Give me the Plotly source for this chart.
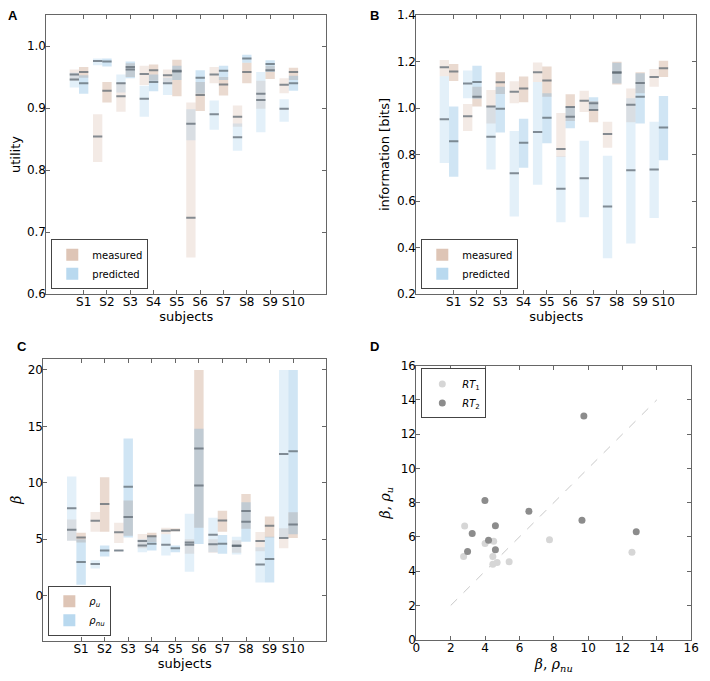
import plotly.graph_objects as go

subjects = ["S1", "S2", "S3", "S4", "S5", "S6", "S7", "S8", "S9", "S10"]
subject_pos = [1, 2, 3, 4, 5, 6, 7, 8, 9, 10]

# ---- Panel A: utility (low, median, high) ----
util_meas_rt1 = [(0.944, 0.954, 0.962), (0.813, 0.854, 0.890), (0.894, 0.919, 0.941), (0.937, 0.955, 0.968),
                 (0.941, 0.953, 0.962), (0.659, 0.723, 0.909), (0.940, 0.954, 0.966), (0.870, 0.886, 0.904),
                 (0.899, 0.923, 0.944), (0.924, 0.9375, 0.948)]
util_pred_rt1 = [(0.933, 0.946, 0.957), (0.969, 0.976, 0.980), (0.925, 0.940, 0.954), (0.886, 0.915, 0.936),
                 (0.921, 0.940, 0.949), (0.848, 0.8745, 0.898), (0.865, 0.890, 0.912), (0.831, 0.853, 0.875),
                 (0.861, 0.913, 0.958), (0.878, 0.899, 0.914)]
util_meas_rt2 = [(0.949, 0.958, 0.966), (0.909, 0.928, 0.942), (0.950, 0.962, 0.972), (0.944, 0.961, 0.970),
                 (0.919, 0.959, 0.978), (0.895, 0.921, 0.942), (0.920, 0.938, 0.950), (0.940, 0.958, 0.973),
                 (0.947, 0.961, 0.968), (0.945, 0.958, 0.965)]
util_pred_rt2 = [(0.923, 0.940, 0.953), (0.967, 0.975, 0.980), (0.948, 0.966, 0.975), (0.927, 0.942, 0.954),
                 (0.945, 0.960, 0.968), (0.923, 0.949, 0.961), (0.945, 0.960, 0.968), (0.973, 0.980, 0.986),
                 (0.958, 0.971, 0.977), (0.928, 0.940, 0.952)]

# ---- Panel B: information [bits] ----
info_meas_rt1 = [(1.137, 1.175, 1.207), (0.901, 0.965, 1.017), (0.933, 1.007, 1.077), (1.021, 1.070, 1.115),
                 (1.112, 1.154, 1.196), (0.789, 0.824, 0.979), (0.983, 1.031, 1.074), (0.829, 0.888, 0.941),
                 (0.939, 1.014, 1.084), (1.091, 1.133, 1.168)]
info_pred_rt1 = [(0.764, 0.952, 1.137), (1.042, 1.105, 1.161), (0.736, 0.876, 1.007), (0.534, 0.719, 0.901),
                 (0.670, 0.897, 1.112), (0.509, 0.653, 0.792), (0.530, 0.698, 0.859), (0.354, 0.577, 0.795),
                 (0.417, 0.732, 1.042), (0.527, 0.736, 0.941)]
info_meas_rt2 = [(1.116, 1.157, 1.189), (1.007, 1.049, 1.091), (1.060, 1.111, 1.154), (1.025, 1.084, 1.136),
                 (1.049, 1.118, 1.179), (0.944, 1.004, 1.059), (0.939, 0.992, 1.030), (1.101, 1.154, 1.199),
                 (1.063, 1.108, 1.154), (1.133, 1.171, 1.203)]
info_pred_rt2 = [(0.705, 0.857, 1.007), (1.040, 1.112, 1.182), (0.895, 0.997, 1.091), (0.743, 0.851, 0.954),
                 (0.848, 0.958, 1.063), (0.913, 0.962, 1.007), (0.990, 1.021, 1.046), (1.105, 1.152, 1.195),
                 (0.933, 1.049, 1.150), (0.775, 0.916, 1.052)]

# ---- Panel C: beta (rho_u measured, rho_nu predicted) ----
rho_u_rt1 = [(4.86, 5.84, 6.74), (5.67, 6.63, 7.41), (4.66, 5.61, 6.45), (4.20, 4.85, 5.47), (5.44, 5.75, 6.02),
             (3.70, 4.50, 5.00), (3.80, 4.55, 5.00), (3.80, 4.40, 4.90), (3.93, 4.85, 5.64), (4.20, 5.10, 5.96)]
rho_nu_rt1 = [(4.86, 7.75, 10.56), (2.40, 2.81, 3.125), (3.95, 4.00, 4.05), (3.85, 4.45, 5.00), (3.56, 4.50, 5.44),
              (2.11, 4.70, 7.26), (3.85, 5.40, 6.89), (3.65, 4.45, 5.21), (1.16, 2.75, 4.28), (5.15, 12.55, 20.0)]
rho_u_rt2 = [(4.70, 5.15, 5.58), (5.67, 8.13, 10.5), (5.30, 6.97, 8.42), (4.75, 5.25, 5.58), (5.70, 5.80, 5.95),
             (6.02, 13.05, 20.0), (5.67, 6.65, 7.52), (5.93, 7.50, 9.00), (5.15, 6.20, 7.00), (5.10, 6.30, 7.38)]
rho_nu_rt2 = [(0.95, 2.98, 5.00), (3.47, 3.99, 4.43), (5.15, 9.64, 13.92), (4.00, 4.60, 5.20), (3.85, 4.20, 4.43),
              (4.57, 9.75, 14.78), (3.70, 4.60, 5.38), (4.77, 6.55, 8.28), (1.16, 3.25, 5.21), (5.44, 12.80, 20.0)]

diag_line = [2, 14]

BROWN1 = "rgba(190,140,110,0.18)"
BROWN2 = "rgba(190,140,110,0.32)"
BLUE1 = "rgba(100,170,220,0.18)"
BLUE2 = "rgba(100,170,220,0.30)"
BROWN_LEG = "rgba(190,140,110,0.5)"
BLUE_LEG = "rgba(100,170,220,0.45)"
MED = "rgba(95,105,115,0.75)"
BW = 0.4
FONT = "DejaVu Sans"

# the page body adds an 8px offset; lay out in window pixels and compensate
OFF = 8
W, H = 710 - OFF, 681 - OFF
def dom_x(a, b):
    return [(a - OFF) / W, (b - OFF) / W]
def dom_y(top, bot):
    return [1 - (bot - OFF) / H, 1 - (top - OFF) / H]
def px(x):
    return (x - OFF) / W
def py(y):
    return 1 - (y - OFF) / H

fig = go.Figure()

def add_box_panel(xa, ya, legend, m1, p1, m2, p2, names):
    pos1 = [p - BW for p in subject_pos]
    pos2 = list(subject_pos)
    for pos, data, col in [(pos1, m1, BROWN1), (pos1, p1, BLUE1), (pos2, m2, BROWN2), (pos2, p2, BLUE2)]:
        fig.add_trace(go.Bar(x=pos, base=[d[0] for d in data], y=[d[2] - d[0] for d in data],
                             width=BW, marker=dict(color=col, line=dict(width=0)),
                             xaxis=xa, yaxis=ya, showlegend=False, hoverinfo="skip"))
    for pos, data in [(pos1, m1), (pos1, p1), (pos2, m2), (pos2, p2)]:
        xs, ys = [], []
        for p, d in zip(pos, data):
            xs += [p - BW / 2, p + BW / 2, None]
            ys += [d[1], d[1], None]
        fig.add_trace(go.Scatter(x=xs, y=ys, mode="lines", line=dict(color=MED, width=2),
                                 xaxis=xa, yaxis=ya, showlegend=False, hoverinfo="skip"))
    for nm, col in zip(names, [BROWN_LEG, BLUE_LEG]):
        fig.add_trace(go.Bar(x=[None], y=[None], name=nm, marker=dict(color=col, line=dict(width=0)),
                             xaxis=xa, yaxis=ya, legend=legend, showlegend=True))

add_box_panel("x", "y", "legend", util_meas_rt1, util_pred_rt1, util_meas_rt2, util_pred_rt2,
              ["measured", "predicted"])
add_box_panel("x2", "y2", "legend2", info_meas_rt1, info_pred_rt1, info_meas_rt2, info_pred_rt2,
              ["measured", "predicted"])
add_box_panel("x3", "y3", "legend3", rho_u_rt1, rho_nu_rt1, rho_u_rt2, rho_nu_rt2,
              ["<i>ρ<sub>u</sub></i>", "<i>ρ<sub>nu</sub></i>"])

# Panel D
fig.add_trace(go.Scatter(x=diag_line, y=diag_line, mode="lines", line=dict(color="#c8c8c8", width=1, dash="dash"),
                         xaxis="x4", yaxis="y4", showlegend=False, hoverinfo="skip"))
fig.add_trace(go.Scatter(x=[d[1] for d in rho_nu_rt1], y=[d[1] for d in rho_u_rt1], mode="markers",
                         marker=dict(color="#d6d6d6", size=7), name="<i>RT</i><sub>1</sub>",
                         xaxis="x4", yaxis="y4", legend="legend4"))
fig.add_trace(go.Scatter(x=[d[1] for d in rho_nu_rt2], y=[d[1] for d in rho_u_rt2], mode="markers",
                         marker=dict(color="#8c8c8c", size=7), name="<i>RT</i><sub>2</sub>",
                         xaxis="x4", yaxis="y4", legend="legend4"))

axis_common = dict(showline=True, linecolor="#666", linewidth=1, mirror="ticks", ticks="inside",
                   ticklen=4, tickcolor="#666", showgrid=False, zeroline=False,
                   tickfont=dict(size=12, color="black", family=FONT))
xtick_adj = dict(ticklabelstandoff=-3)
ytick_adj = dict(ticklabelstandoff=-3)
title_font = dict(size=13, color="black", family=FONT)
math_font = dict(size=14, color="black", family="DejaVu Serif")

subj_x = dict(axis_common, **xtick_adj, range=[-0.6, 11.4], tickvals=subject_pos, ticktext=subjects,
              title=dict(text="subjects", font=title_font, standoff=0))

fig.update_layout(
    width=W, height=H, margin=dict(l=0, r=0, t=0, b=0),
    paper_bgcolor="white", plot_bgcolor="white", barmode="overlay",
    font=dict(family=FONT, color="black"),
    xaxis=dict(subj_x, domain=dom_x(42, 327), anchor="y"),
    yaxis=dict(axis_common, **ytick_adj, domain=dom_y(8, 293), anchor="x", range=[0.6, 1.05],
               tickvals=[0.6, 0.7, 0.8, 0.9, 1.0],
               tickformat=".1f", title=dict(text="utility", font=title_font, standoff=6)),
    xaxis2=dict(subj_x, domain=dom_x(419, 704), anchor="y2"),
    yaxis2=dict(axis_common, **ytick_adj, domain=dom_y(8, 293), anchor="x2", range=[0.2, 1.4], dtick=0.2, tick0=0.2,
                tickformat=".1f", title=dict(text="information [bits]", font=title_font, standoff=4)),
    xaxis3=dict(subj_x, domain=dom_x(39, 327), anchor="y3"),
    yaxis3=dict(axis_common, **ytick_adj, domain=dom_y(359, 647), anchor="x3", range=[-4, 21],
                tickvals=[0, 5, 10, 15, 20],
                title=dict(text="<i>β</i>", font=math_font, standoff=10)),
    xaxis4=dict(axis_common, **xtick_adj, domain=dom_x(419, 699), anchor="y4", range=[0, 16], dtick=2,
                title=dict(text="<i>β</i>, <i>ρ<sub>nu</sub></i>", font=math_font, standoff=5)),
    yaxis4=dict(axis_common, **ytick_adj, domain=dom_y(366, 646), anchor="x4", range=[0, 16], dtick=2,
                title=dict(text="<i>β</i>, <i>ρ<sub>u</sub></i>", font=math_font, standoff=6)),
)

leg_common = dict(bgcolor="white", bordercolor="#444", borderwidth=1, font=dict(size=10, family=FONT),
                  xanchor="left", tracegroupgap=0)
fig.update_layout(
    legend=dict(leg_common, x=px(47), y=py(288), yanchor="bottom"),
    legend2=dict(leg_common, x=px(424), y=py(288), yanchor="bottom"),
    legend3=dict(leg_common, x=px(44), y=py(642), yanchor="bottom"),
    legend4=dict(leg_common, x=px(424), y=py(369), yanchor="top", itemsizing="trace"),
)

for txt, ax_, ay_ in [("A", 8.5, 8.5), ("B", 376, 8.5), ("C", 17, 347), ("D", 376, 347)]:
    fig.add_annotation(text="<b>%s</b>" % txt, x=px(ax_), y=py(ay_), xref="paper", yref="paper",
                       showarrow=False, font=dict(size=13, family="Liberation Sans", color="black"),
                       xanchor="center", yanchor="middle")

fig.write_html("out.html")
